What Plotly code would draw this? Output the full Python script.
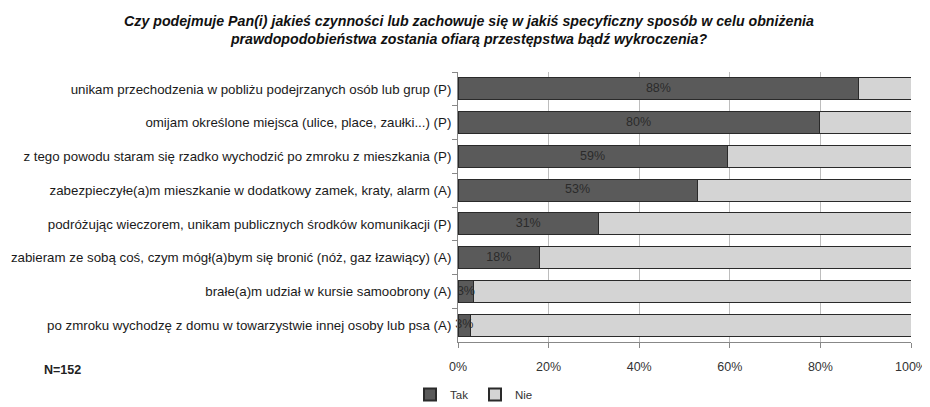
import plotly.graph_objects as go

categories = [
    "unikam przechodzenia w pobliżu podejrzanych osób lub grup (P)",
    "omijam określone miejsca (ulice, place, zaułki...) (P)",
    "z tego powodu staram się rzadko wychodzić po zmroku z mieszkania (P)",
    "zabezpieczyłe(a)m mieszkanie w dodatkowy zamek, kraty, alarm (A)",
    "podróżując wieczorem, unikam publicznych środków komunikacji (P)",
    "zabieram ze sobą coś, czym mógł(a)bym się bronić (nóż, gaz łzawiący) (A)",
    "brałe(a)m udział w kursie samoobrony (A)",
    "po zmroku wychodzę z domu w towarzystwie innej osoby lub psa (A)",
]
tak = [88.5, 79.7, 59.4, 52.8, 31.0, 18.0, 3.5, 2.8]
nie = [100 - v for v in tak]
labels = ["88%", "80%", "59%", "53%", "31%", "18%", "3%", "3%"]

font_family = "Liberation Sans, Arial, sans-serif"

# the page body has an 8px margin, so the figure is drawn 8px in from the window edge
OFF = 8
W, H = 930 - OFF, 407 - OFF
ML = 458 - OFF
MR = W - (911 - OFF)
MT = 72 - OFF
MB = H - (342 - OFF)
PH = H - MT - MB
PW = W - ML - MR


def py(ref_px):
    # reference pixel row -> paper y
    return (H - MB - (ref_px - OFF)) / PH


def px_x(ref_px):
    return ((ref_px - OFF) - ML) / PW


fig = go.Figure()
fig.add_trace(go.Bar(
    y=categories, x=tak, name="Tak", orientation="h",
    marker=dict(color="#5a5a5a", line=dict(color="#2a2a2a", width=1)),
    width=0.65,
))
fig.add_trace(go.Bar(
    y=categories, x=nie, name="Nie", orientation="h",
    marker=dict(color="#d4d4d4", line=dict(color="#2a2a2a", width=1)),
    width=0.65,
))
fig.add_trace(go.Scatter(
    y=categories, x=[v / 2 for v in tak], mode="text", text=labels,
    textfont=dict(color="#2b2b2b", size=12.5, family=font_family),
    showlegend=False, hoverinfo="skip", cliponaxis=False,
))

fig.update_layout(
    barmode="stack",
    width=W, height=H,
    margin=dict(l=ML, r=MR, t=MT, b=MB, autoexpand=False),
    paper_bgcolor="white", plot_bgcolor="white",
    font=dict(family=font_family, size=13, color="#1a1a1a"),
    title=dict(
        text="<b><i>Czy podejmuje Pan(i) jakieś czynności lub zachowuje się w jakiś specyficzny sposób w celu obniżenia<br>prawdopodobieństwa zostania ofiarą przestępstwa bądź wykroczenia?</i></b>",
        x=0.5, xanchor="center", xref="container",
        y=1 - (26 - OFF) / H, yanchor="middle", yref="container",
        font=dict(size=14.2, family=font_family, color="#111"),
    ),
    legend=dict(
        orientation="h", x=px_x(475), xanchor="center",
        y=py(380), yanchor="top",
        font=dict(size=11.5, family=font_family, color="#333"),
        itemwidth=30, entrywidth=20, traceorder="normal",
        tracegroupgap=0, itemsizing="constant",
    ),
    showlegend=True,
    xaxis=dict(
        range=[0, 100], tickvals=[0, 20, 40, 60, 80, 100],
        ticktext=["0%", "20%", "40%", "60%", "80%", "100%"],
        showgrid=True, gridcolor="#bdbdbd", gridwidth=1,
        ticks="outside", ticklen=5, tickcolor="#888",
        ticklabelstandoff=8,
        showline=True, linecolor="#888", zeroline=False,
        tickfont=dict(size=12.5, color="#333"),
        fixedrange=True,
    ),
    yaxis=dict(
        autorange="reversed", categoryorder="array", categoryarray=categories,
        ticks="outside", ticklen=5, tickcolor="#888", tickson="boundaries",
        ticklabelstandoff=3,
        showline=True, linecolor="#888",
        tickfont=dict(size=13.3, color="#1a1a1a"),
        fixedrange=True,
    ),
    annotations=[dict(
        text="<b>N=152</b>", x=px_x(62), y=py(370), xref="paper", yref="paper",
        xanchor="center", yanchor="middle",
        showarrow=False, font=dict(size=12.5, color="#222"),
    )],
)
fig.write_html("out.html")
